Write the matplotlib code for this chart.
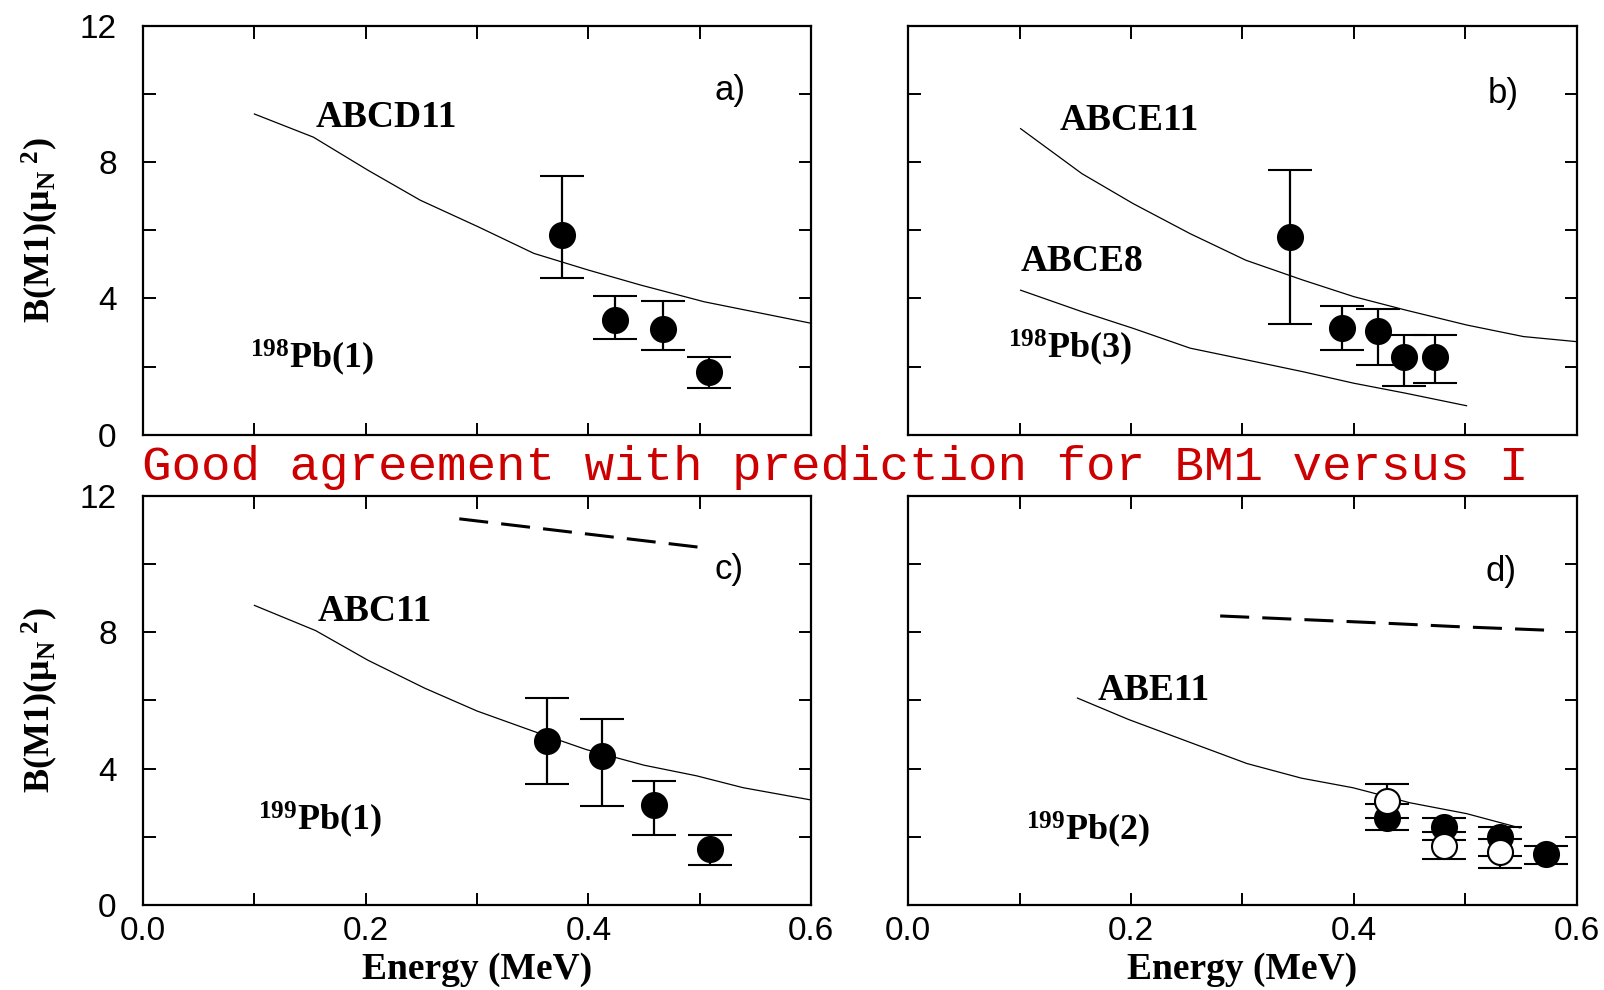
"""B(M1) strengths versus transition energy for 198Pb and 199Pb bands."""

import matplotlib
matplotlib.use("Agg")
import matplotlib.pyplot as plt
from matplotlib.ticker import FixedLocator, NullFormatter


# (a) 198Pb(1), ABCD11
a_line_e = [0.100, 0.153, 0.202, 0.249, 0.301, 0.351, 0.400, 0.447, 0.504, 0.600]
a_line_b = [9.41, 8.73, 7.76, 6.88, 6.10, 5.32, 4.83, 4.39, 3.90, 3.27]
a_e = [0.376, 0.424, 0.467, 0.508]
a_b = [5.87, 3.37, 3.10, 1.83]
a_hi = [7.59, 4.07, 3.93, 2.29]
a_lo = [4.61, 2.80, 2.49, 1.37]

# (b) 198Pb(3), ABCE11 and ABCE8
b_line1_e = [0.101, 0.156, 0.202, 0.253, 0.303, 0.354, 0.400, 0.446, 0.501, 0.552, 0.600]
b_line1_b = [8.98, 7.66, 6.78, 5.90, 5.12, 4.54, 4.05, 3.66, 3.22, 2.88, 2.73]
b_line2_e = [0.101, 0.156, 0.202, 0.253, 0.303, 0.354, 0.400, 0.446, 0.501]
b_line2_b = [4.24, 3.61, 3.12, 2.54, 2.20, 1.85, 1.51, 1.22, 0.85]
b_e = [0.343, 0.389, 0.422, 0.445, 0.473]
b_b = [5.79, 3.14, 3.04, 2.27, 2.29]
b_hi = [7.76, 3.78, 3.68, 2.93, 2.93]
b_lo = [3.24, 2.49, 2.05, 1.43, 1.53]

# (c) 199Pb(1), ABC11
c_line_e = [0.100, 0.155, 0.202, 0.253, 0.300, 0.352, 0.398, 0.450, 0.497, 0.539, 0.600]
c_line_b = [8.79, 8.05, 7.18, 6.36, 5.69, 5.08, 4.56, 4.10, 3.79, 3.44, 3.08]
c_dash_e = [0.284, 0.400, 0.509]
c_dash_b = [11.33, 10.88, 10.46]
c_e = [0.363, 0.412, 0.459, 0.509]
c_b = [4.82, 4.36, 2.92, 1.64]
c_hi = [6.07, 5.47, 3.64, 2.05]
c_lo = [3.54, 2.89, 2.05, 1.16]

# (d) 199Pb(2), ABE11
d_line_e = [0.152, 0.198, 0.253, 0.304, 0.353, 0.399, 0.412, 0.450, 0.501, 0.549]
d_line_b = [6.07, 5.44, 4.77, 4.15, 3.72, 3.44, 3.33, 3.00, 2.68, 2.26]
d_dash_e = [0.280, 0.350, 0.420, 0.490, 0.575]
d_dash_b = [8.48, 8.38, 8.28, 8.17, 8.06]
d_full_e = [0.430, 0.481, 0.531, 0.572]
d_full_b = [2.55, 2.29, 1.99, 1.50]
d_full_hi = [2.96, 2.55, 2.28, 1.72]
d_full_lo = [2.19, 1.91, 1.43, 1.21]
d_open_e = [0.430, 0.481, 0.531]
d_open_b = [3.04, 1.74, 1.55]
d_open_hi = [3.55, 2.14, 1.95]
d_open_lo = [2.55, 1.35, 1.09]

TITLE = "Good agreement with prediction for BM1 versus I"
TITLE_RED = "#CC0000"

plt.rcParams["mathtext.fontset"] = "custom"
plt.rcParams["mathtext.rm"] = "Liberation Serif:bold"
plt.rcParams["mathtext.it"] = "Liberation Serif:bold"
plt.rcParams["mathtext.bf"] = "Liberation Serif:bold"

SERIF_BOLD = dict(family="Liberation Serif", weight="bold")


def errs(vals, lo, hi):
    return [[v - l for v, l in zip(vals, lo)], [h - v for v, h in zip(vals, hi)]]


def style_axes(ax, xlabels, ylabels):
    ax.set_xlim(0, 0.6)
    ax.set_ylim(0, 12)
    ax.xaxis.set_major_locator(FixedLocator([0.0, 0.2, 0.4, 0.6]))
    ax.xaxis.set_minor_locator(FixedLocator([0.1, 0.3, 0.5]))
    ax.yaxis.set_major_locator(FixedLocator([0, 4, 8, 12]))
    ax.yaxis.set_minor_locator(FixedLocator([2, 6, 10]))
    ax.tick_params(which="both", direction="in", top=True, right=True,
                   length=9, width=1.4)
    ax.tick_params(axis="x", pad=8, labelsize=24)
    ax.tick_params(axis="y", pad=19, labelsize=24)
    for lab in ax.get_xticklabels() + ax.get_yticklabels():
        lab.set_family("Liberation Sans")
    ax.xaxis.set_major_formatter(lambda v, p: f"{v:.1f}")
    ax.yaxis.set_major_formatter(lambda v, p: f"{v:.0f}")
    if not xlabels:
        ax.xaxis.set_major_formatter(NullFormatter())
    if not ylabels:
        ax.yaxis.set_major_formatter(NullFormatter())
    for sp in ax.spines.values():
        sp.set_linewidth(1.6)
    if xlabels:
        ax.set_xlabel("Energy (MeV)", fontsize=27, va="center", **SERIF_BOLD)
        ax.xaxis.set_label_coords(0.5, -0.159)
    if ylabels:
        ax.set_ylabel(r"B(M1)(μ$_{\mathrm{N}}$$^{\ 2}$)", fontsize=26,
                      va="center", **SERIF_BOLD)
        ax.yaxis.set_label_coords(-0.153, 0.5)


def points(ax, e, b, lo, hi, face="black"):
    ax.errorbar(e, b, yerr=errs(b, lo, hi), fmt="o", color="black",
                mfc=face, mec="black", mew=1.5, ms=18,
                elinewidth=1.6, capsize=16, capthick=2.2, zorder=3)


def tag(ax, x, y, text, size=27):
    ax.text(x, y, text, fontsize=size, ha="left", va="center", **SERIF_BOLD)


def panel_letter(ax, x, y, text):
    ax.text(x, y, text, fontsize=25, family="Liberation Sans",
            ha="left", va="center")


fig = plt.figure(figsize=(16.04, 9.90), dpi=100)
ax_a = fig.add_axes([0.0892, 0.5609, 0.4165, 0.4131])
ax_b = fig.add_axes([0.5661, 0.5609, 0.4170, 0.4131])
ax_c = fig.add_axes([0.0892, 0.0859, 0.4165, 0.4131])
ax_d = fig.add_axes([0.5661, 0.0859, 0.4170, 0.4131])

dash = (0, (9.5, 4.3))

# a)
ax_a.plot(a_line_e, a_line_b, color="black", lw=0.9)
points(ax_a, a_e, a_b, a_lo, a_hi)
tag(ax_a, 0.155, 9.3, "ABCD11")
tag(ax_a, 0.096, 2.25, "$^{198}$Pb(1)", size=26)
panel_letter(ax_a, 0.513, 10.1, "a)")

# b)
ax_b.plot(b_line1_e, b_line1_b, color="black", lw=0.9)
ax_b.plot(b_line2_e, b_line2_b, color="black", lw=0.9)
points(ax_b, b_e, b_b, b_lo, b_hi)
tag(ax_b, 0.136, 9.22, "ABCE11")
tag(ax_b, 0.101, 5.07, "ABCE8")
tag(ax_b, 0.090, 2.55, "$^{198}$Pb(3)", size=26)
panel_letter(ax_b, 0.520, 10.0, "b)")

# c)
ax_c.plot(c_line_e, c_line_b, color="black", lw=0.9)
ax_c.plot(c_dash_e, c_dash_b, color="black", lw=2.2, linestyle=dash)
points(ax_c, c_e, c_b, c_lo, c_hi)
tag(ax_c, 0.157, 8.62, "ABC11")
tag(ax_c, 0.103, 2.5, "$^{199}$Pb(1)", size=26)
panel_letter(ax_c, 0.513, 9.85, "c)")

# d)
ax_d.plot(d_line_e, d_line_b, color="black", lw=0.9)
ax_d.plot(d_dash_e, d_dash_b, color="black", lw=2.2, linestyle=dash)
points(ax_d, d_full_e, d_full_b, d_full_lo, d_full_hi)
points(ax_d, d_open_e, d_open_b, d_open_lo, d_open_hi, face="white")
tag(ax_d, 0.170, 6.29, "ABE11")
tag(ax_d, 0.106, 2.2, "$^{199}$Pb(2)", size=26)
panel_letter(ax_d, 0.518, 9.79, "d)")

style_axes(ax_a, xlabels=False, ylabels=True)
style_axes(ax_b, xlabels=False, ylabels=False)
style_axes(ax_c, xlabels=True, ylabels=True)
style_axes(ax_d, xlabels=True, ylabels=False)

# red headline between the two rows, stretched to span the panels
title = fig.text(0.0885, 1 - 480 / 990, TITLE, color=TITLE_RED,
                 family="Liberation Mono", fontsize=34,
                 ha="left", va="baseline")
fig.canvas.draw()
width = title.get_window_extent().width
title.set_fontsize(34 * 1391 / width)

fig.savefig("out.png", dpi=100)
plt.close(fig)
